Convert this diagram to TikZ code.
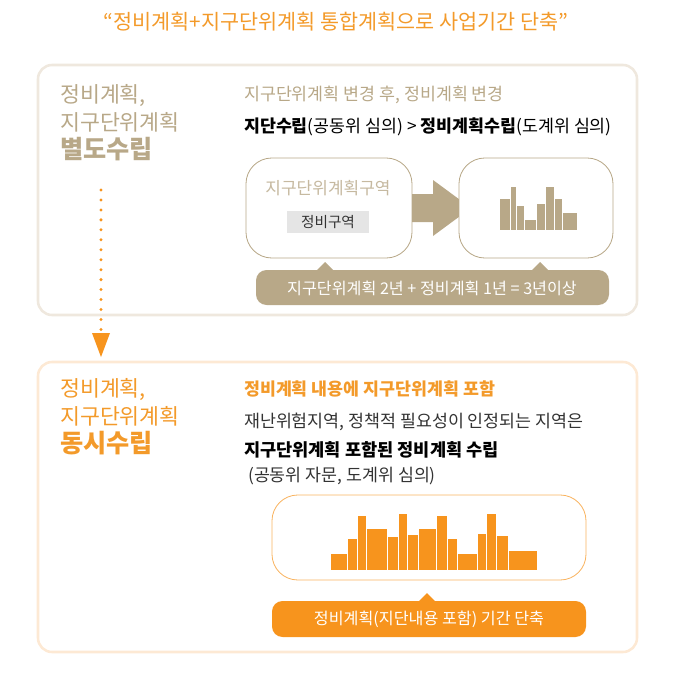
\documentclass[tikz,border=0pt]{standalone}
\usepackage{fontspec}
\setmainfont{Noto Sans CJK KR}
\tikzset{x=0.03cm, y=-0.03cm}
\definecolor{beige}{HTML}{B8A888}
\definecolor{beigelight}{HTML}{EFE8DE}
\definecolor{orng}{HTML}{F7941D}
\definecolor{orngtitle}{HTML}{F39A2A}
\definecolor{ornglight}{HTML}{FDE9D4}
\definecolor{txt}{HTML}{333333}
\newcommand{\bldg}[5]{\path[fill=#1, draw=white, line width=0.6pt] (#2,#3) rectangle (#4,#5);}
\begin{document}
\begin{tikzpicture}[
    panel/.style={line width=2.2pt, rounded corners=12pt},
    subbox/.style={line width=0.7pt, rounded corners=22pt, fill=white},
    heading/.style={anchor=west, align=left, font=\fontsize{18.5}{24}\selectfont},
    bodytext/.style={anchor=west, font=\fontsize{14.8}{17}\selectfont},
    callout/.style={rounded corners=9pt, font=\fontsize{13.8}{16}\selectfont, text=white}
]
\useasboundingbox (0,0) rectangle (672,674);

% title
\node[font=\fontsize{17.7}{20}\selectfont, text=orngtitle] (title) at (336,22) {“정비계획+지구단위계획 통합계획으로 사업기간 단축”};

% upper panel
\draw[panel, draw=beigelight] (38,65) rectangle (637,315);
\node[heading, text=beige, anchor=north west] (sepHead) at (56,80) {정비계획,\\지구단위계획\\{\fontsize{21.5}{27}\selectfont\bfseries 별도수립}};
\node[bodytext, text=beige] (sepTitle) at (240,95) {지구단위계획 변경 후, 정비계획 변경};
\node[bodytext, text=black] (sepLine) at (240,127) {\textbf{지단수립}(공동위 심의) > \textbf{정비계획수립}(도계위 심의)};

\draw[subbox, draw=beige] (246,158) rectangle (412,258);
\node[font=\fontsize{14.5}{17}\selectfont, text=beige!80] (zone) at (328,188) {지구단위계획구역};
\node[fill=black!10, font=\fontsize{12.5}{15}\selectfont, text=txt, inner xsep=12pt] (subzone) at (328,222) {정비구역};
\fill[beige] (412,194) -- (433,194) -- (433,180) -- (471,208) -- (433,236) -- (433,222) -- (412,222) -- cycle;
\draw[subbox, draw=beige] (459,158) rectangle (613,258);
\bldg{beige}{499}{198}{510}{230}
\bldg{beige}{510}{186}{516}{230}
\bldg{beige}{516}{205}{524}{230}
\bldg{beige}{524}{219}{536}{230}
\bldg{beige}{536}{203}{545}{230}
\bldg{beige}{545}{186}{554}{230}
\bldg{beige}{554}{198}{562}{230}
\bldg{beige}{562}{212}{577}{230}

\fill[beige, rounded corners=9pt] (256,270) rectangle (609,305);
\fill[beige] (316,271) -- (325,262) -- (334,271) -- cycle;
\fill[beige] (531,271) -- (540,262) -- (549,271) -- cycle;
\node[callout] (sepSum) at (432,288) {지구단위계획 2년 + 정비계획 1년 = 3년이상};

% connector
\coordinate (dotTop) at (101,190);
\coordinate (dotEnd) at (101,330);
\draw[orng, line width=2.8pt, line cap=round, dash pattern=on 0pt off 8.5pt] (dotTop) -- (dotEnd);
\fill[orng] (92,333) -- (110,333) -- (101,357) -- cycle;

% lower panel
\draw[panel, draw=ornglight] (38,362) rectangle (637,652);
\node[heading, text=orngtitle, anchor=north west] (simHead) at (56,374) {정비계획,\\지구단위계획\\{\fontsize{21.5}{27}\selectfont\bfseries 동시수립}};
\node[bodytext, text=orngtitle, font=\fontsize{14.8}{17}\selectfont\bfseries] (simTitle) at (240,389) {정비계획 내용에 지구단위계획 포함};
\node[bodytext, text=txt] (simLine1) at (240,422) {재난위험지역, 정책적 필요성이 인정되는 지역은};
\node[bodytext, text=black, font=\fontsize{15}{17}\selectfont\bfseries] (simLine2) at (240,450) {지구단위계획 포함된 정비계획 수립};
\node[bodytext, text=txt] (simLine3) at (244,476) {(공동위 자문, 도계위 심의)};

\draw[subbox, draw=orng!70] (272,495) rectangle (586,580);
\bldg{orng}{330}{553}{347}{570}
\bldg{orng}{347}{538}{357}{570}
\bldg{orng}{357}{515}{366}{570}
\bldg{orng}{366}{528}{387}{570}
\bldg{orng}{387}{536}{398}{570}
\bldg{orng}{398}{513}{407}{570}
\bldg{orng}{407}{534}{418}{570}
\bldg{orng}{418}{528}{436}{570}
\bldg{orng}{436}{515}{447}{570}
\bldg{orng}{447}{538}{457}{570}
\bldg{orng}{457}{553}{477}{570}
\bldg{orng}{477}{533}{486}{570}
\bldg{orng}{486}{513}{496}{570}
\bldg{orng}{496}{535}{508}{570}
\bldg{orng}{508}{550}{537}{570}

\fill[orng, rounded corners=9pt] (272,601) rectangle (586,637);
\fill[orng] (418,602) -- (427,593) -- (436,602) -- cycle;
\node[callout] (simSum) at (429,619) {정비계획(지단내용 포함) 기간 단축};
\end{tikzpicture}
\end{document}
